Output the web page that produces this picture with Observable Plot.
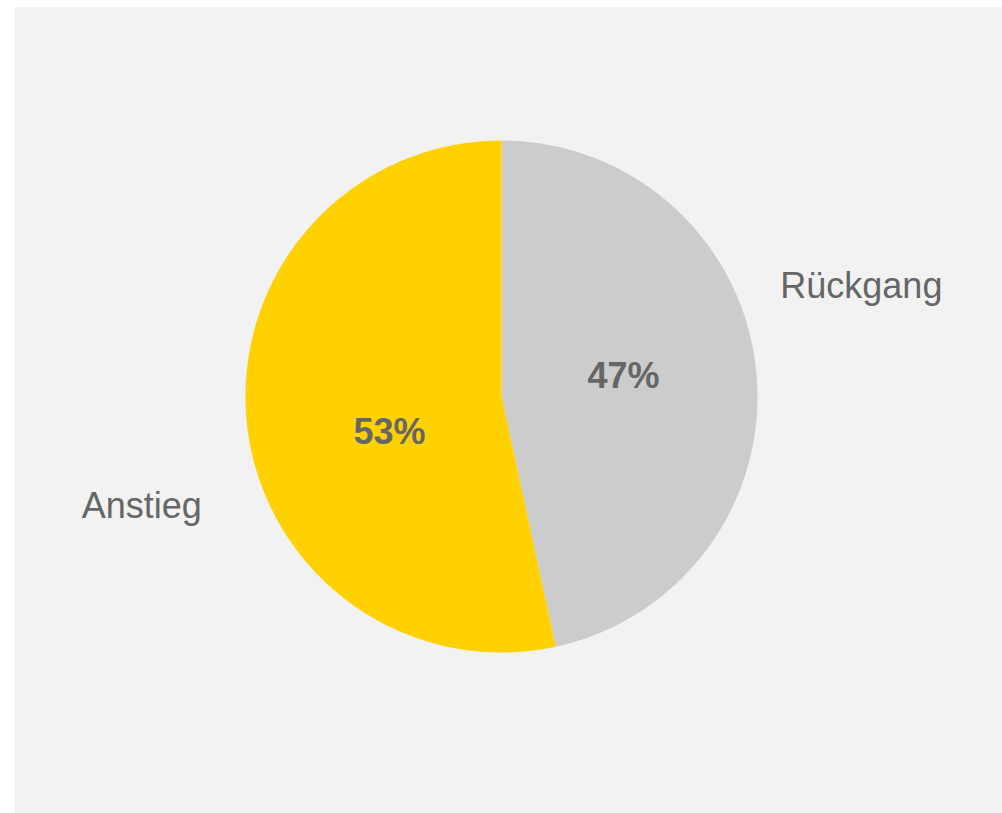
<!DOCTYPE html>
<html><head><meta charset="utf-8">
<script src="https://cdn.jsdelivr.net/npm/d3@7"></script>
<script src="https://cdn.jsdelivr.net/npm/@observablehq/plot@0.6"></script>
<style>
body{margin:0;background:#ffffff;}
#chart{position:absolute;left:15px;top:7px;width:987px;height:806px;background:#f2f2f2;}
</style>
</head><body><div id="chart"></div>
<script>
// Data
const categories = ["Rückgang", "Anstieg"];
const values = [46.6, 53.4];
const colors = ["#cccccc", "#ffd100"];

// Layout (not data)
const W = 987, H = 806, cx = 486, cy = 389, R = 256;
const total = d3.sum(values);
const deg = Math.PI / 180;

// Slice polygons in unit (polar -> cartesian) coordinates
const pie = [];
let start = 0;
const slices = categories.map((c, i) => {
  const a0 = start, a1 = start + values[i] / total * 360;
  start = a1;
  return {cat: c, value: values[i], a0, a1, mid: (a0 + a1) / 2};
});
for (const s of slices) {
  pie.push({cat: s.cat, x: 0, y: 0});
  const n = Math.ceil((s.a1 - s.a0) / 0.5);
  for (let k = 0; k <= n; k++) {
    const a = (s.a0 + (s.a1 - s.a0) * k / n) * deg;
    pie.push({cat: s.cat, x: Math.sin(a), y: Math.cos(a)});
  }
}
const polar = (r, aDeg) => ({x: r * Math.sin(aDeg * deg), y: r * Math.cos(aDeg * deg)});
const pctLabels = slices.map(s => ({...polar(0.47, s.mid - 7.3), text: Math.round(s.value / total * 100) + "%"}));
const catLabels = slices.map(s => ({...polar(1.47, s.mid - 10.9), text: s.cat}));

const chart = Plot.plot({
  width: W, height: H,
  margin: 0,
  style: {background: "transparent", fontFamily: "'Liberation Sans', Arial, sans-serif"},
  x: {domain: [-1, 1], range: [cx - R, cx + R], axis: null},
  y: {domain: [-1, 1], range: [cy + R, cy - R], axis: null},
  color: {domain: categories, range: colors},
  marks: [
    Plot.line(pie, {x: "x", y: "y", z: "cat", fill: "cat", stroke: null, curve: "linear-closed"}),
    Plot.text(pctLabels, {x: "x", y: "y", text: "text", fontSize: 36, fontWeight: "bold", fill: "#666666", dx: 5, dy: 8}),
    Plot.text(catLabels, {x: "x", y: "y", text: "text", fontSize: 36, fill: "#666666"})
  ]
});
document.getElementById("chart").appendChild(chart);
</script>
</body></html>
